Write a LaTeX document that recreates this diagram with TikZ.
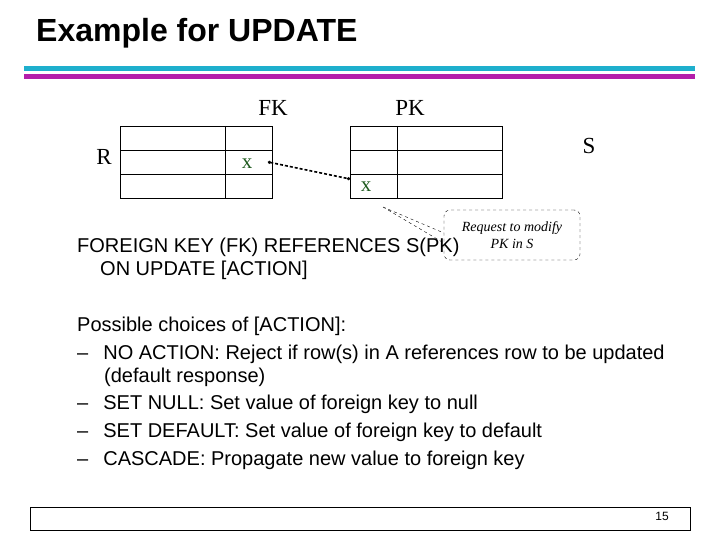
\documentclass[tikz,border=0pt]{standalone}
\usepackage{fontspec}
\usetikzlibrary{arrows.meta}
\setmainfont{Liberation Serif}
\setsansfont{Liberation Sans}
\definecolor{tealbar}{RGB}{30,175,205}
\definecolor{purplebar}{RGB}{180,30,170}
\begin{document}
\begin{tikzpicture}[x=1pt,y=-1pt,
  cell/.style={draw,thin},
  body/.style={font=\sffamily\fontsize{20}{24}\selectfont,anchor=west,inner sep=0},
  lbl/.style={font=\fontsize{23}{26}\selectfont,inner sep=0},
  xm/.style={font=\fontsize{21}{24}\selectfont,text={rgb,255:red,30;green,90;blue,30},inner sep=0}]
\useasboundingbox (0,0) rectangle (720,540);
\node[anchor=west,inner sep=0,font=\sffamily\bfseries\fontsize{32}{36}\selectfont] (title) at (36,33) {Example for UPDATE};
\fill[tealbar] (24,66) rectangle (695,71);
\fill[purplebar] (24,74) rectangle (695,79);
\draw[cell] (120,126) rectangle (272,198);
\draw[cell] (120,150) -- (272,150) (120,174) -- (272,174) (225,126) -- (225,198);
\draw[cell] (350,126) rectangle (502,198);
\draw[cell] (350,150) -- (502,150) (350,174) -- (502,174) (397,126) -- (397,198);
\node[lbl] (fk) at (273,108) {FK};
\node[lbl] (pk) at (410,108) {PK};
\node[lbl] (r) at (104,157) {R};
\node[lbl] (s) at (589,146) {S};
\node[xm] (xr) at (247,164) {x};
\node[xm] (xs) at (366,187) {x};
\coordinate (a1) at (268,162);
\coordinate (a2) at (350,179);
\draw[densely dashed,line width=1.6pt,{Circle[length=3pt]}-{Circle[length=3pt]}] (a1) -- (a2);
\node[draw,dashed,rounded corners=6pt,minimum width=136pt,minimum height=50pt,align=center,inner sep=2pt,font=\itshape\fontsize{14}{17}\selectfont] (call) at (512,235) {Request to modify\\PK in S};
\coordinate (p) at (383,207);
\draw[dashed,thin] (p) -- ([yshift=-8pt]call.west) (p) -- ([yshift=2pt]call.west);
\node[body] (fkt) at (77,247) {FOREIGN KEY (FK) REFERENCES S(PK)};
\node[body] (onu) at (100,270) {ON UPDATE [ACTION]};
\node[body] (pc) at (77,326) {Possible choices of [ACTION]:};
\node[body] (i1) at (77,354) {–\hspace{15pt}NO ACTION: Reject if row(s) in A references row to be updated};
\node[body] (i1b) at (104,377) {(default response)};
\node[body] (i2) at (77,404) {–\hspace{15pt}SET NULL: Set value of foreign key to null};
\node[body] (i3) at (77,432) {–\hspace{15pt}SET DEFAULT: Set value of foreign key to default};
\node[body] (i4) at (77,460) {–\hspace{15pt}CASCADE: Propagate new value to foreign key};
\node[draw,line width=1pt,minimum width=660pt,minimum height=23pt,inner sep=0] (foot) at (360,518.5) {};
\node[font=\sffamily\fontsize{12}{13}\selectfont,inner sep=0] (num) at (662,516) {15};
\end{tikzpicture}
\end{document}
